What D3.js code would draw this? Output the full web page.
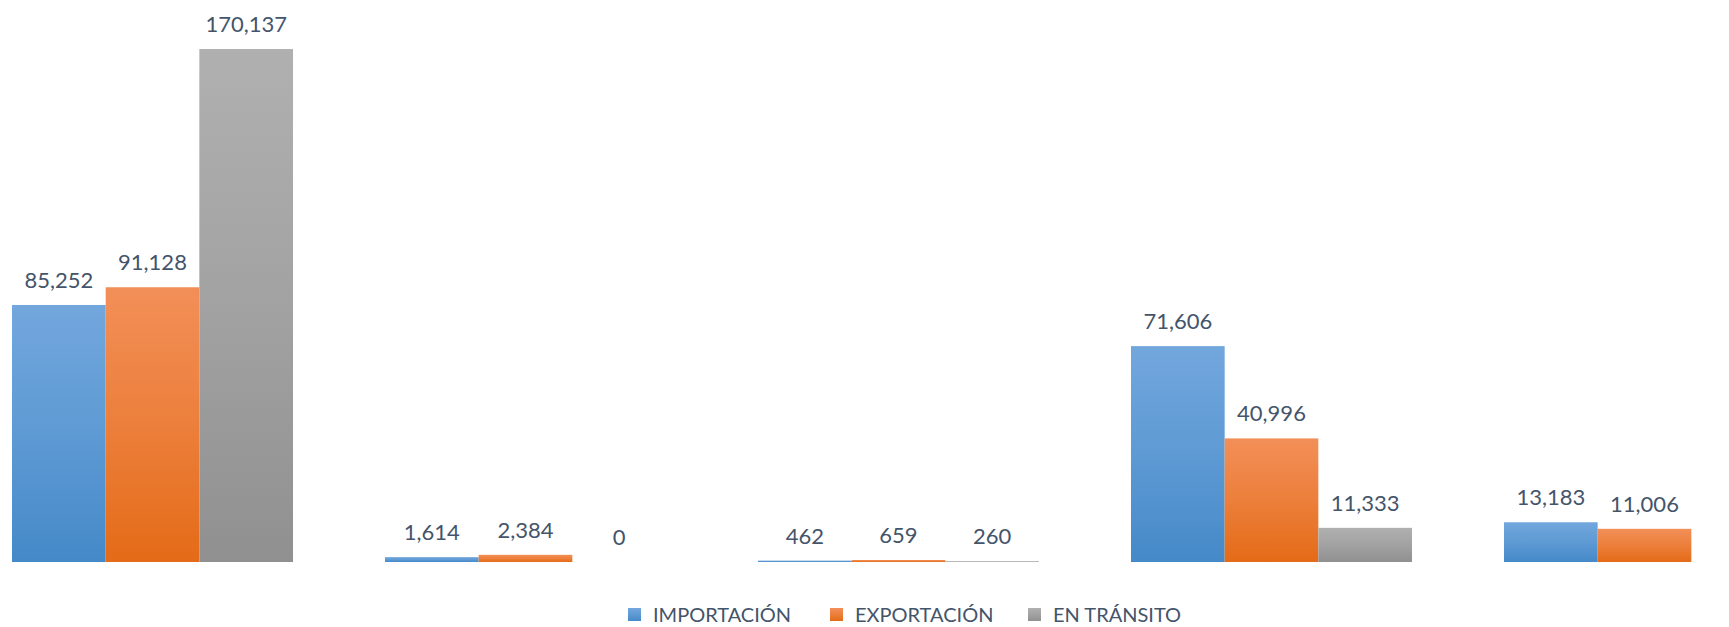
<!DOCTYPE html>
<html>
<head>
<meta charset="utf-8">
<script src="https://cdn.jsdelivr.net/npm/d3@7"></script>
<style>
  html, body { margin: 0; padding: 0; background: #ffffff; }
  svg { display: block; }
</style>
</head>
<body>
<svg id="chart" width="1729" height="627"></svg>
<script>
// ---- data ----
const categories = ["Grupo 1", "Grupo 2", "Grupo 3", "Grupo 4", "Grupo 5"];
const seriesNames = ["IMPORTACIÓN", "EXPORTACIÓN", "EN TRÁNSITO"];
const importacion = [85252, 1614, 462, 71606, 13183];
const exportacion = [91128, 2384, 659, 40996, 11006];
const enTransito  = [170137, 0, 260, 11333, null];

const seriesValues = [importacion, exportacion, enTransito];

// ---- styles ----
const gradients = [
  { top: "#72a7dd", bottom: "#4589c8" },
  { top: "#f28f58", bottom: "#e46b17" },
  { top: "#b0b0b0", bottom: "#909090" }
];
const labelColor = "#44546a";
const fontFamily = "Lato, 'Open Sans', sans-serif";

const svg = d3.select("#chart");
const defs = svg.append("defs");
gradients.forEach((g, i) => {
  const lg = defs.append("linearGradient")
    .attr("id", "grad" + i)
    .attr("x1", 0).attr("y1", 0).attr("x2", 0).attr("y2", 1);
  lg.append("stop").attr("offset", "0%").attr("stop-color", g.top);
  lg.append("stop").attr("offset", "50%").attr("stop-color", d3.interpolateRgb(g.top, g.bottom)(0.45));
  lg.append("stop").attr("offset", "100%").attr("stop-color", g.bottom);
});

// ---- scales ----
const x0 = d3.scaleBand()
  .domain(categories)
  .range([-34, 1831])
  .paddingInner(0.2466)
  .paddingOuter(0.1233);

const x1 = d3.scaleBand()
  .domain(seriesNames)
  .range([0, x0.bandwidth()])
  .padding(0);

const y = d3.scaleLinear()
  .domain([0, 180000])
  .range([562, 19.3]);

const fmt = d3.format(",");

// ---- bars ----
const groups = svg.append("g").selectAll("g.grp")
  .data(categories)
  .join("g")
  .attr("class", "grp")
  .attr("transform", d => `translate(${x0(d)},0)`);

groups.each(function(cat, ci) {
  const g = d3.select(this);
  const rows = seriesNames.map((s, si) => ({ s, si, v: seriesValues[si][ci] }))
    .filter(d => d.v !== null && d.v !== undefined);

  g.selectAll("rect")
    .data(rows.filter(d => d.v > 0))
    .join("rect")
    .attr("x", d => x1(d.s))
    .attr("width", x1.bandwidth())
    .attr("y", d => y(d.v))
    .attr("height", d => Math.max(y(0) - y(d.v), 0))
    .attr("fill", d => `url(#grad${d.si})`);

  g.selectAll("text")
    .data(rows)
    .join("text")
    .attr("x", d => x1(d.s) + x1.bandwidth() / 2)
    .attr("y", d => y(d.v) - 17)
    .attr("text-anchor", "middle")
    .attr("font-family", fontFamily)
    .attr("font-size", "22px")
    .attr("fill", labelColor)
    .text(d => fmt(d.v));
});

// ---- legend ----
const legendX = [628, 830, 1028];
const legend = svg.append("g").attr("class", "legend");
seriesNames.forEach((s, i) => {
  const lg = legend.append("g").attr("transform", `translate(${legendX[i]},608)`);
  lg.append("rect")
    .attr("width", 13).attr("height", 13)
    .attr("fill", `url(#grad${i})`);
  lg.append("text")
    .attr("x", 25).attr("y", 14)
    .attr("font-family", fontFamily)
    .attr("font-size", "20px")
    .attr("fill", labelColor)
    .text(s);
});
</script>
</body>
</html>
